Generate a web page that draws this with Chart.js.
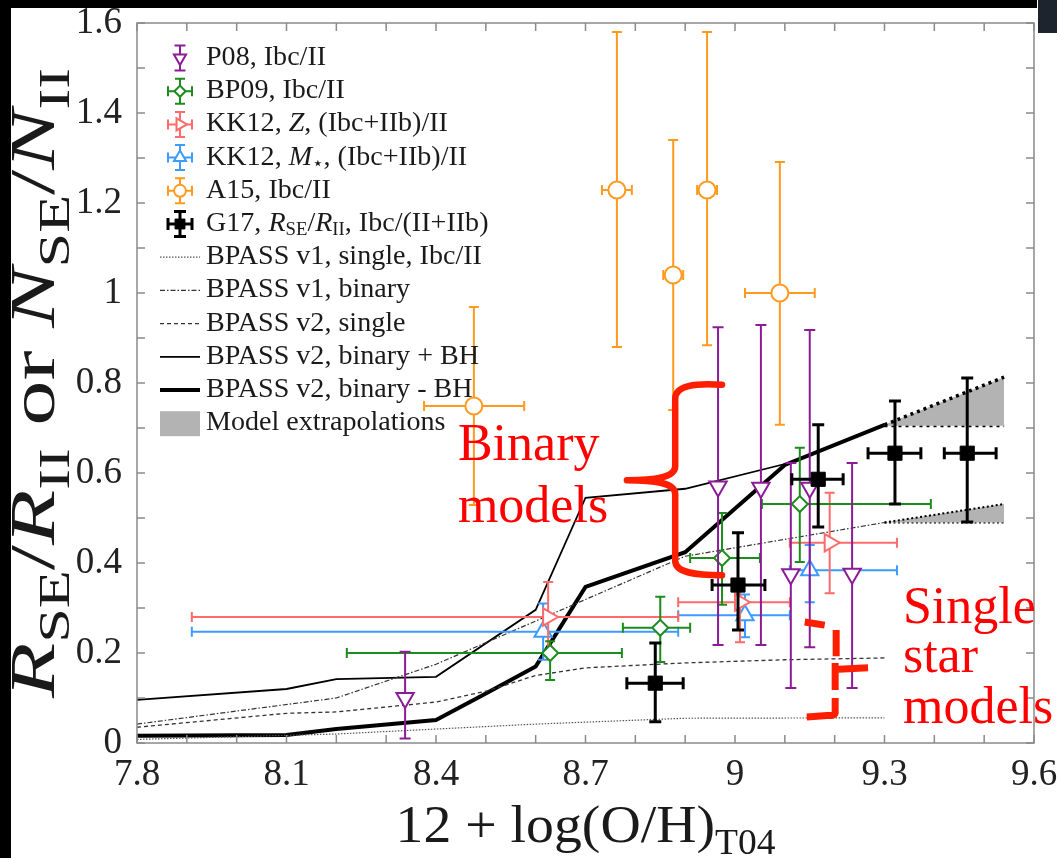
<!DOCTYPE html>
<html lang="en">
<head>
<meta charset="UTF-8">
<title>SE / II ratio vs metallicity</title>
<script src="https://cdn.jsdelivr.net/npm/chart.js@4"></script>
<style>
  html, body { margin: 0; padding: 0; background: #fff; }
  canvas { display: block; }
</style>
</head>
<body>
<canvas id="chart" width="1057" height="858"></canvas>
<script>
// ---------- values ----------
const xTickValues = [7.8, 8.1, 8.4, 8.7, 9.0, 9.3, 9.6];
const yTickValues = [0, 0.2, 0.4, 0.6, 0.8, 1.0, 1.2, 1.4, 1.6];

// P08, Ibc/II  (vertical errors only)
const p08X   = [8.338, 8.966, 9.052, 9.150, 9.112, 9.235];
const p08Y   = [0.100, 0.570, 0.567, 0.567, 0.375, 0.376];
const p08YLo = [0.010, 0.218, 0.218, 0.213, 0.122, 0.122];
const p08YHi = [0.203, 0.924, 0.929, 0.918, 0.622, 0.622];

// BP09, Ibc/II
const bp09X   = [8.629, 8.850, 8.974, 9.130];
const bp09Y   = [0.200, 0.256, 0.411, 0.531];
const bp09XLo = [8.221, 8.775, 8.910, 9.054];
const bp09XHi = [8.773, 8.910, 9.050, 9.393];
const bp09YLo = [0.140, 0.180, 0.307, 0.402];
const bp09YHi = [0.226, 0.325, 0.511, 0.656];

// KK12, Z, (Ibc+IIb)/II
const kkzX   = [8.625, 9.010, 9.190];
const kkzY   = [0.280, 0.313, 0.445];
const kkzXLo = [7.910, 8.886, 9.110];
const kkzXHi = [8.886, 9.110, 9.325];
const kkzYLo = [0.200, 0.224, 0.333];
const kkzYHi = [0.358, 0.360, 0.556];

// KK12, M*, (Ibc+IIb)/II
const kkmX   = [8.615, 9.020, 9.150];
const kkmY   = [0.247, 0.284, 0.384];
const kkmXLo = [7.910, 8.886, 9.110];
const kkmXHi = [8.886, 9.110, 9.325];
const kkmYLo = [0.185, 0.235, 0.313];
const kkmYHi = [0.310, 0.330, 0.440];

// A15, Ibc/II
const a15X   = [8.476, 8.763, 8.876, 8.944, 9.090];
const a15Y   = [0.749, 1.229, 1.040, 1.229, 1.000];
const a15XLo = [8.376, 8.733, 8.856, 8.924, 9.020];
const a15XHi = [8.577, 8.793, 8.896, 8.964, 9.160];
const a15YLo = [0.529, 0.880, 0.740, 0.884, 0.707];
const a15YHi = [0.969, 1.580, 1.340, 1.580, 1.291];

// G17, R_SE/R_II, Ibc/(II+IIb)
const g17X   = [8.840, 9.006, 9.167, 9.321, 9.466];
const g17Y   = [0.133, 0.351, 0.586, 0.644, 0.644];
const g17XLo = [8.783, 8.954, 9.114, 9.267, 9.420];
const g17XHi = [8.896, 9.060, 9.217, 9.373, 9.524];
const g17YLo = [0.047, 0.251, 0.480, 0.531, 0.491];
const g17YHi = [0.222, 0.467, 0.707, 0.760, 0.811];

// BPASS model curves
const v1SingleX = [7.8, 8.2, 8.6, 8.9, 9.3];
const v1SingleY = [0.008, 0.020, 0.042, 0.055, 0.056];
const v1BinaryX = [7.8, 8.2, 8.4, 8.9, 9.3];
const v1BinaryY = [0.042, 0.100, 0.175, 0.415, 0.490];
const v2SingleX = [7.8, 8.1, 8.2, 8.4, 8.5, 8.6, 8.7, 8.9, 9.1, 9.3];
const v2SingleY = [0.035, 0.066, 0.069, 0.091, 0.115, 0.150, 0.167, 0.178, 0.185, 0.189];
const v2BinBHX = [7.8, 8.1, 8.2, 8.4, 8.6, 8.7, 8.9, 9.1];
const v2BinBHY = [0.096, 0.120, 0.142, 0.147, 0.296, 0.545, 0.565, 0.620];
const v2BinNoBHX = [7.8, 8.1, 8.2, 8.4, 8.5, 8.6, 8.7, 8.9, 9.1, 9.3];
const v2BinNoBHY = [0.016, 0.018, 0.031, 0.051, 0.110, 0.170, 0.347, 0.424, 0.618, 0.707];

// model extrapolations (grey wedges)
const extrapX = [9.3, 9.54];
const extrapHighTop  = [0.707, 0.813];
const extrapHighBase = [0.705, 0.705];
const extrapLowTop   = [0.490, 0.531];
const extrapLowBase  = [0.490, 0.490];

// ---------- helpers ----------
const SERIF = '"Liberation Serif", "Times New Roman", serif';
const PURPLE = '#8B1C96', GREEN = '#1C8C1C', SALMON = '#FF6B6B', BLUE = '#3D9BFF', ORANGE = '#FF9A1F';
const RED = '#FF1E00';

const pts = (xs, ys) => xs.map((x, i) => ({ x: x, y: ys[i] }));
const fmt = v => String(+(+v).toFixed(1));

function markerSet(label, xs, ys, color, style, rot, r, err, order, filled) {
  return {
    label: label, data: pts(xs, ys), showLine: false, order: order,
    borderColor: color, backgroundColor: filled ? color : '#fff',
    pointStyle: style, pointRotation: rot, pointRadius: r, pointHoverRadius: r,
    pointBorderWidth: filled ? 1 : 2, pointBackgroundColor: filled ? color : '#fff',
    pointBorderColor: color, errorBars: err
  };
}
function lineSet(label, xs, ys, width, dash, color) {
  return {
    label: label, data: pts(xs, ys), showLine: true, pointRadius: 0, order: 10,
    borderColor: color, borderWidth: width, borderDash: dash, fill: false, tension: 0
  };
}

function richText(ctx, parts, x, y, size, o) {
  o = Object.assign({ align: 'left', stretch: 1, fit: 0, color: '#1a1a1a', baseline: 'alphabetic' }, o || {});
  const fontFor = k => (k.indexOf('i') >= 0 ? 'italic ' : '') +
    (k.indexOf('s') >= 0 ? Math.round(size * 0.68) : size) + 'px ' + SERIF;
  let w = 0;
  parts.forEach(p => { ctx.font = fontFor(p[1]); w += ctx.measureText(p[0]).width; });
  const sx = o.fit ? o.fit / w : o.stretch;
  ctx.save();
  ctx.translate(x, y);
  if (o.rotate) ctx.rotate(o.rotate);
  ctx.scale(sx, 1);
  ctx.fillStyle = o.color;
  ctx.textBaseline = o.baseline;
  ctx.textAlign = 'left';
  let cx = o.align === 'center' ? -w / 2 : 0;
  parts.forEach(p => {
    ctx.font = fontFor(p[1]);
    ctx.fillText(p[0], cx, p[1].indexOf('s') >= 0 ? size * 0.24 : 0);
    cx += ctx.measureText(p[0]).width;
  });
  ctx.restore();
}

function errorBarPath(ctx, px, py, x1, x2, y1, y2, cap) {
  ctx.beginPath();
  if (y1 !== null) {
    ctx.moveTo(px, y1); ctx.lineTo(px, y2);
    ctx.moveTo(px - cap, y1); ctx.lineTo(px + cap, y1);
    ctx.moveTo(px - cap, y2); ctx.lineTo(px + cap, y2);
  }
  if (x1 !== null) {
    ctx.moveTo(x1, py); ctx.lineTo(x2, py);
    ctx.moveTo(x1, py - cap); ctx.lineTo(x1, py + cap);
    ctx.moveTo(x2, py - cap); ctx.lineTo(x2, py + cap);
  }
  ctx.stroke();
}

// error bars drawn just before each scatter set's markers
const errorBarPlugin = {
  id: 'errorBars',
  beforeDatasetDraw(chart, args) {
    const ds = chart.data.datasets[args.index];
    const eb = ds.errorBars;
    if (!eb) return;
    const ctx = chart.ctx, sx = chart.scales.x, sy = chart.scales.y;
    ctx.save();
    ctx.strokeStyle = ds.borderColor;
    ctx.lineWidth = eb.width;
    ds.data.forEach((p, i) => {
      const px = sx.getPixelForValue(p.x), py = sy.getPixelForValue(p.y);
      errorBarPath(ctx, px, py,
        eb.xlo ? sx.getPixelForValue(eb.xlo[i]) : null, eb.xhi ? sx.getPixelForValue(eb.xhi[i]) : null,
        eb.ylo ? sy.getPixelForValue(eb.ylo[i]) : null, eb.yhi ? sy.getPixelForValue(eb.yhi[i]) : null,
        eb.cap);
    });
    ctx.restore();
  }
};

const datasets = [
  markerSet('G17', g17X, g17Y, '#000', 'rect', 0, 10,
    { xlo: g17XLo, xhi: g17XHi, ylo: g17YLo, yhi: g17YHi, width: 3, cap: 6 }, 0, true),
  markerSet('P08', p08X, p08Y, PURPLE, 'triangle', 180, 10,
    { ylo: p08YLo, yhi: p08YHi, width: 2, cap: 5.5 }, 1, false),
  markerSet('BP09', bp09X, bp09Y, GREEN, 'rectRot', 0, 8,
    { xlo: bp09XLo, xhi: bp09XHi, ylo: bp09YLo, yhi: bp09YHi, width: 2, cap: 5 }, 2, false),
  markerSet('KK12 Z', kkzX, kkzY, SALMON, 'triangle', 90, 10,
    { xlo: kkzXLo, xhi: kkzXHi, ylo: kkzYLo, yhi: kkzYHi, width: 2, cap: 5 }, 3, false),
  markerSet('KK12 M', kkmX, kkmY, BLUE, 'triangle', 0, 10,
    { xlo: kkmXLo, xhi: kkmXHi, ylo: kkmYLo, yhi: kkmYHi, width: 2, cap: 5 }, 4, false),
  markerSet('A15', a15X, a15Y, ORANGE, 'circle', 0, 8.5,
    { xlo: a15XLo, xhi: a15XHi, ylo: a15YLo, yhi: a15YHi, width: 2, cap: 5 }, 5, false),
  lineSet('BPASS v1, single, Ibc/II', v1SingleX, v1SingleY, 1.2, [1.5, 1.5], '#555'),
  lineSet('BPASS v1, binary', v1BinaryX, v1BinaryY, 1.2, [5, 2, 1.5, 2], '#333'),
  lineSet('BPASS v2, single', v2SingleX, v2SingleY, 1.3, [4, 3], '#333'),
  lineSet('BPASS v2, binary + BH', v2BinBHX, v2BinBHY, 1.8, [], '#000'),
  lineSet('BPASS v2, binary - BH', v2BinNoBHX, v2BinNoBHY, 4, [], '#000'),
  { label: 'extrap high', data: pts(extrapX, extrapHighTop), showLine: true, pointRadius: 0, order: 20,
    borderColor: '#000', borderWidth: 3.5, borderDash: [3, 4], backgroundColor: '#b3b3b3', fill: 12 },
  { label: 'extrap high base', data: pts(extrapX, extrapHighBase), showLine: true, pointRadius: 0, order: 20,
    borderColor: '#000', borderWidth: 3, borderDash: [3, 4], fill: false },
  { label: 'extrap low', data: pts(extrapX, extrapLowTop), showLine: true, pointRadius: 0, order: 20,
    borderColor: '#000', borderWidth: 2, borderDash: [2, 2.5], backgroundColor: '#b3b3b3', fill: 14 },
  { label: 'extrap low base', data: pts(extrapX, extrapLowBase), showLine: true, pointRadius: 0, order: 20,
    borderColor: '#000', borderWidth: 2, borderDash: [2, 2.5], fill: false }
];

const legendRows = [
  { ds: 1, parts: [['P08, Ibc/II', '']] },
  { ds: 2, parts: [['BP09, Ibc/II', '']] },
  { ds: 3, parts: [['KK12, ', ''], ['Z', 'i'], [', (Ibc+IIb)/II', '']] },
  { ds: 4, parts: [['KK12, ', ''], ['M', 'i'], ['\u22C6', 's'], [', (Ibc+IIb)/II', '']] },
  { ds: 5, parts: [['A15, Ibc/II', '']] },
  { ds: 0, parts: [['G17, ', ''], ['R', 'i'], ['SE', 's'], ['/', ''], ['R', 'i'], ['II', 's'], [', Ibc/(II+IIb)', '']] },
  { ds: 6, parts: [['BPASS v1, single, Ibc/II', '']] },
  { ds: 7, parts: [['BPASS v1, binary', '']] },
  { ds: 8, parts: [['BPASS v2, single', '']] },
  { ds: 9, parts: [['BPASS v2, binary + BH', '']] },
  { ds: 10, parts: [['BPASS v2, binary - BH', '']] },
  { ds: -1, parts: [['Model extrapolations', '']] }
];

const decorPlugin = {
  id: 'decor',
  beforeDraw(chart) {
    const ctx = chart.ctx;
    ctx.save();
    ctx.fillStyle = '#fff';
    ctx.fillRect(0, 0, chart.width, chart.height);
    ctx.restore();
  },
  afterDraw(chart) {
    const ctx = chart.ctx, a = chart.chartArea, sx = chart.scales.x, sy = chart.scales.y;
    const P = (xv, yv) => [sx.getPixelForValue(xv), sy.getPixelForValue(yv)];
    ctx.save();

    // frame and inward ticks
    ctx.strokeStyle = '#8a8a8a';
    ctx.lineWidth = 1.5;
    ctx.strokeRect(a.left, a.top, a.right - a.left, a.bottom - a.top);
    ctx.beginPath();
    for (let k = 0; k <= 18; k++) {
      const px = sx.getPixelForValue(7.8 + k * 0.1);
      ctx.moveTo(px, a.bottom); ctx.lineTo(px, a.bottom - 8);
      ctx.moveTo(px, a.top); ctx.lineTo(px, a.top + 8);
    }
    for (let k = 0; k <= 16; k++) {
      const py = sy.getPixelForValue(k * 0.1);
      ctx.moveTo(a.left, py); ctx.lineTo(a.left + 8, py);
      ctx.moveTo(a.right, py); ctx.lineTo(a.right - 8, py);
    }
    ctx.stroke();

    // axis titles
    richText(ctx, [['12 + log(O/H)', ''], ['T04', 's']], (a.left + a.right) / 2, 842, 52,
      { align: 'center', fit: 380 });
    richText(ctx, [['R', 'i'], ['SE', 's'], ['/', ''], ['R', 'i'], ['II', 's'], [' or ', ''],
                   ['N', 'i'], ['SE', 's'], ['/', ''], ['N', 'i'], ['II', 's']],
      54, (a.top + a.bottom) / 2, 64, { align: 'center', fit: 630, rotate: -Math.PI / 2 });

    // legend
    legendRows.forEach((row, i) => {
      const cy = 58 + i * 33.2, cx = 180;
      ctx.save();
      if (row.ds < 0) {
        ctx.fillStyle = '#b3b3b3';
        ctx.fillRect(160, cy - 12, 40, 25);
      } else {
        const ds = chart.data.datasets[row.ds];
        if (ds.showLine) {
          ctx.strokeStyle = ds.borderColor;
          ctx.lineWidth = ds.borderWidth;
          ctx.setLineDash(ds.borderDash || []);
          ctx.beginPath(); ctx.moveTo(160, cy); ctx.lineTo(200, cy); ctx.stroke();
        } else {
          const eb = ds.errorBars;
          ctx.strokeStyle = ds.borderColor;
          ctx.lineWidth = eb.width;
          errorBarPath(ctx, cx, cy, eb.xlo ? cx - 12 : null, eb.xlo ? cx + 12 : null,
            cy + 12.5, cy - 12.5, eb.cap);
          ctx.fillStyle = ds.pointBackgroundColor;
          ctx.lineWidth = ds.pointBorderWidth;
          Chart.helpers.drawPoint(ctx, { pointStyle: ds.pointStyle, rotation: ds.pointRotation,
            radius: ds.pointRadius * 0.7, borderWidth: ds.pointBorderWidth }, cx, cy);
        }
      }
      ctx.restore();
      richText(ctx, row.parts, 206, cy, 27, { baseline: 'middle', stretch: 1.04 });
    });

    // red annotations: "Binary models" brace
    ctx.strokeStyle = RED;
    ctx.lineCap = 'round';
    ctx.lineJoin = 'round';
    ctx.lineWidth = 6.5;
    ctx.beginPath();
    ctx.moveTo(...P(8.974, 0.796));
    ctx.bezierCurveTo(...P(8.92, 0.800), ...P(8.880, 0.795), ...P(8.880, 0.765));
    ctx.lineTo(...P(8.880, 0.615));
    ctx.bezierCurveTo(...P(8.880, 0.590), ...P(8.840, 0.584), ...P(8.783, 0.584));
    ctx.bezierCurveTo(...P(8.840, 0.584), ...P(8.880, 0.578), ...P(8.880, 0.553));
    ctx.lineTo(...P(8.880, 0.405));
    ctx.bezierCurveTo(...P(8.880, 0.378), ...P(8.92, 0.373), ...P(8.974, 0.373));
    ctx.stroke();

    // dashed "single star" bracket
    ctx.lineWidth = 7;
    ctx.lineCap = 'butt';
    ctx.beginPath();
    ctx.moveTo(...P(9.140, 0.269)); ctx.lineTo(...P(9.180, 0.262));
    ctx.moveTo(...P(9.203, 0.251)); ctx.lineTo(...P(9.203, 0.193));
    ctx.moveTo(...P(9.201, 0.178)); ctx.lineTo(...P(9.201, 0.118));
    ctx.moveTo(...P(9.208, 0.164)); ctx.lineTo(...P(9.267, 0.167));
    ctx.moveTo(...P(9.201, 0.100)); ctx.lineTo(...P(9.201, 0.068));
    ctx.quadraticCurveTo(...P(9.201, 0.060), ...P(9.185, 0.061));
    ctx.lineTo(...P(9.144, 0.058));
    ctx.stroke();

    ctx.fillStyle = '#FF0000';
    ctx.font = '52px ' + SERIF;
    ctx.textBaseline = 'alphabetic';
    ctx.textAlign = 'left';
    let p = P(8.444, 0.629); ctx.fillText('Binary', p[0], p[1]);
    p = P(8.444, 0.491); ctx.fillText('models', p[0], p[1]);
    p = P(9.337, 0.267); ctx.fillText('Single', p[0], p[1]);
    p = P(9.337, 0.158); ctx.fillText('star', p[0], p[1]);
    p = P(9.337, 0.044); ctx.fillText('models', p[0], p[1]);

    // screenshot edges
    ctx.fillStyle = '#000';
    ctx.fillRect(0, 0, 11, chart.height);
    ctx.fillRect(0, 0, 1037, 8);
    ctx.fillStyle = '#1d242d';
    ctx.fillRect(1038, 0, 19, 33);
    ctx.restore();
  }
};

const axisFont = { family: SERIF, size: 37 };

new Chart(document.getElementById('chart'), {
  type: 'scatter',
  data: { datasets: datasets },
  options: {
    responsive: false,
    animation: false,
    devicePixelRatio: 1,
    layout: { padding: { top: 23, right: 23, left: 0, bottom: 0 } },
    plugins: { legend: { display: false }, tooltip: { enabled: false } },
    scales: {
      x: {
        type: 'linear', min: 7.8, max: 9.6,
        afterBuildTicks: s => { s.ticks = xTickValues.map(v => ({ value: v })); },
        afterFit: s => { s.height = 115; s.paddingLeft = 0; s.paddingRight = 0; },
        ticks: { font: axisFont, color: '#222', padding: 10, maxRotation: 0, autoSkip: false, callback: v => fmt(v) },
        grid: { display: false, drawTicks: false },
        border: { display: false }
      },
      y: {
        type: 'linear', min: 0, max: 1.6,
        afterBuildTicks: s => { s.ticks = yTickValues.map(v => ({ value: v })); },
        afterFit: s => { s.width = 137; s.paddingTop = 0; s.paddingBottom = 0; },
        ticks: { font: axisFont, color: '#222', padding: 15, autoSkip: false, callback: v => fmt(v) },
        grid: { display: false, drawTicks: false },
        border: { display: false }
      }
    }
  },
  plugins: [errorBarPlugin, decorPlugin]
});
</script>
</body>
</html>
